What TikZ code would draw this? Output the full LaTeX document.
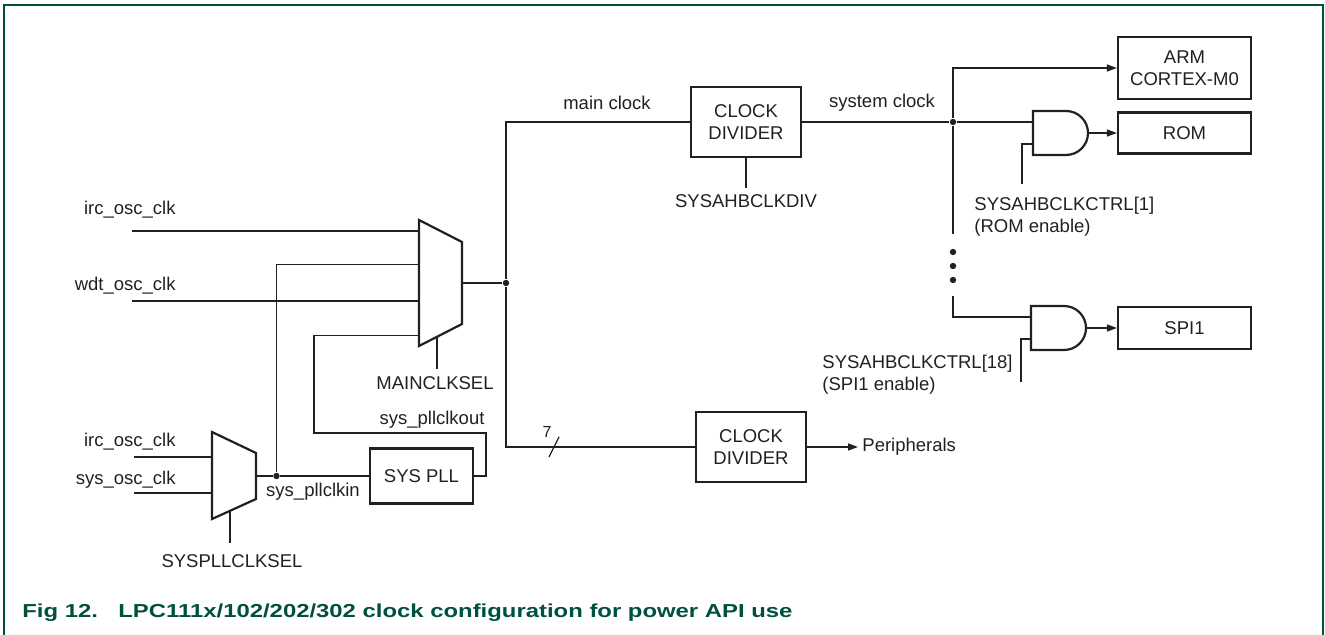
\documentclass[tikz,border=0pt]{standalone}
\usepackage{fontspec}
\usepackage{graphicx}
\setmainfont{Liberation Sans}
\usetikzlibrary{arrows.meta}
\definecolor{nxpgreen}{RGB}{0,80,64}
\definecolor{ink}{RGB}{35,31,32}

\begin{document}
\begin{tikzpicture}[x=50pt,y=-50pt,
        every node/.style={font=\fontsize{9.25}{11}\selectfont, text=ink, inner sep=0pt},
        wire/.style={draw=ink, line width=0.65pt},
        box/.style={draw=ink, line width=1.1pt, minimum width=55pt, minimum height=35pt, align=center},
        gate/.style={draw=ink, line width=1.1pt, line join=miter},
        arr/.style={-{Triangle[length=5pt,width=3.5pt]}},
        dot/.style={circle, fill=ink, minimum size=3.2pt},
        figtitle/.style={anchor=base west, font=\fontsize{9.4}{11}\selectfont\bfseries, text=nxpgreen}]

        \useasboundingbox (0,0) rectangle (13.25,6.35);
        \draw[nxpgreen, line width=1pt] (0.04,6.35) -- (0.04,0.05) -- (13.23,0.05) -- (13.23,6.35);

        \node[anchor=east] (ircmain) at (1.76,2.10) {irc\_osc\_clk};
        \node[anchor=east] (wdtmain) at (1.76,2.86) {wdt\_osc\_clk};
        \node[anchor=east] (ircpll) at (1.76,4.42) {irc\_osc\_clk};
        \node[anchor=east] (syspll) at (1.76,4.80) {sys\_osc\_clk};
        \coordinate (ircmainw) at (1.32,2.31);
        \coordinate (wdtmainw) at (1.32,3.01);
        \coordinate (ircpllw) at (1.34,4.57);
        \coordinate (syspllw) at (1.34,4.93);

        \draw[gate] (4.19,2.20) -- (4.62,2.42) -- (4.62,3.24) -- (4.19,3.46) -- cycle;
        \coordinate (mainin1) at (4.19,2.31);
        \coordinate (mainin2) at (4.19,2.645);
        \coordinate (mainin3) at (4.19,3.01);
        \coordinate (mainin4) at (4.19,3.355);
        \coordinate (mainout) at (4.62,2.83);
        \coordinate (mainsel) at (4.37,3.37);
        \node (mainsellbl) at (4.35,3.83) {MAINCLKSEL};

        \draw[gate] (2.12,4.32) -- (2.56,4.53) -- (2.56,4.99) -- (2.12,5.19) -- cycle;
        \coordinate (pllin1) at (2.12,4.57);
        \coordinate (pllin2) at (2.12,4.93);
        \coordinate (pllout) at (2.56,4.76);
        \coordinate (pllsel) at (2.30,5.108);
        \node (pllsellbl) at (2.32,5.61) {SYSPLLCLKSEL};

        \node[box, minimum width=51.5pt, minimum height=27.5pt] (pll) at (4.215,4.76) {SYS PLL};
        \node[dot] (jpll) at (2.765,4.76) {};
        \node (pllinlbl) at (3.13,4.92) {sys\_pllclkin};
        \node (plloutlbl) at (4.32,4.20) {sys\_pllclkout};

        \draw[wire] (ircmainw) -- (mainin1);
        \draw[wire] (wdtmainw) -- (mainin3);
        \draw[wire] (ircpllw) -- (pllin1);
        \draw[wire] (syspllw) -- (pllin2);
        \draw[wire] (pllout) -- (jpll) -- (pll.west);
        \draw[wire] (jpll) |- (mainin2);
        \draw[wire] (pll.east) -| (4.86,4.33) -| (3.14,3.355) -- (mainin4);
        \draw[wire] (mainsel) -- (4.37,3.69);
        \draw[wire] (pllsel) -- (2.30,5.43);

        \node[box] (divtop) at (7.46,1.22) {CLOCK\\DIVIDER};
        \node[box] (divbot) at (7.51,4.47) {CLOCK\\DIVIDER};
        \node[dot] (jmain) at (5.06,2.83) {};
        \node (mainclk) at (6.07,1.03) {main clock};
        \node (sysclk) at (8.82,1.03) {system clock};
        \node (divlbl) at (7.46,2.01) {SYSAHBCLKDIV};
        \node[font=\fontsize{8}{10}\selectfont] (buswidth) at (5.47,4.32) {7};
        \node[anchor=west] (periph) at (8.62,4.47) {Peripherals};

        \draw[wire] (mainout) -- (jmain);
        \draw[wire] (divtop.west) -| (jmain);
        \draw[wire] (jmain) |- (divbot.west);
        \draw[wire] (5.49,4.57) -- (5.59,4.37);
        \draw[wire] (divtop.south) -- (7.46,1.88);
        \draw[wire,arr] (divbot.east) -- ([xshift=-2pt]periph.west);

        \node[box, minimum width=66.5pt, minimum height=31pt] (arm) at (11.845,0.68) {ARM\\CORTEX-M0};
        \node[box, minimum width=66.5pt, minimum height=20.5pt] (rom) at (11.845,1.33) {ROM};
        \node[box, minimum width=66.5pt, minimum height=21pt] (spi) at (11.845,3.28) {SPI1};

        \node[dot] (jsys) at (9.53,1.22) {};
        \node[dot] (more1) at (9.53,2.52) {};
        \node[dot] (more2) at (9.53,2.66) {};
        \node[dot] (more3) at (9.53,2.80) {};
        \coordinate (spitap) at (9.53,2.96);

        \draw[gate] (10.33,1.11) -- (10.66,1.11) arc[start angle=90, end angle=-90, radius=11pt] -- (10.33,1.55) -- cycle;
        \coordinate (and1a) at (10.33,1.22);
        \coordinate (and1b) at (10.33,1.44);
        \coordinate (and1o) at (10.88,1.33);
        \draw[gate] (10.31,3.06) -- (10.64,3.06) arc[start angle=90, end angle=-90, radius=11pt] -- (10.31,3.50) -- cycle;
        \coordinate (and2a) at (10.31,3.17);
        \coordinate (and2b) at (10.31,3.39);
        \coordinate (and2o) at (10.86,3.28);

        \node[anchor=north west, align=left] (romen) at (9.74,1.97) {SYSAHBCLKCTRL[1]\\(ROM enable)};
        \node[anchor=north west, align=left] (spien) at (8.22,3.55) {SYSAHBCLKCTRL[18]\\(SPI1 enable)};

        \draw[wire] (divtop.east) -- (jsys) -- (and1a);
        \draw[wire,arr] (jsys) |- (arm.west);
        \draw[wire] (jsys) -- (9.53,2.34);
        \draw[wire,arr] (and1o) -- (rom.west);
        \draw[wire] (and1b) -| (10.22,1.84);
        \draw[wire] (spitap) |- (and2a);
        \draw[wire,arr] (and2o) -- (spi.west);
        \draw[wire] (and2b) -| (10.21,3.82);

        \node[figtitle] (fignum) at (0.22,6.17) {\scalebox{1.27}[1]{Fig 12.}};
        \node[figtitle] (caption) at (1.18,6.17) {\scalebox{1.27}[1]{LPC111x/102/202/302 clock configuration for power API use}};

    \end{tikzpicture}
\end{document}
